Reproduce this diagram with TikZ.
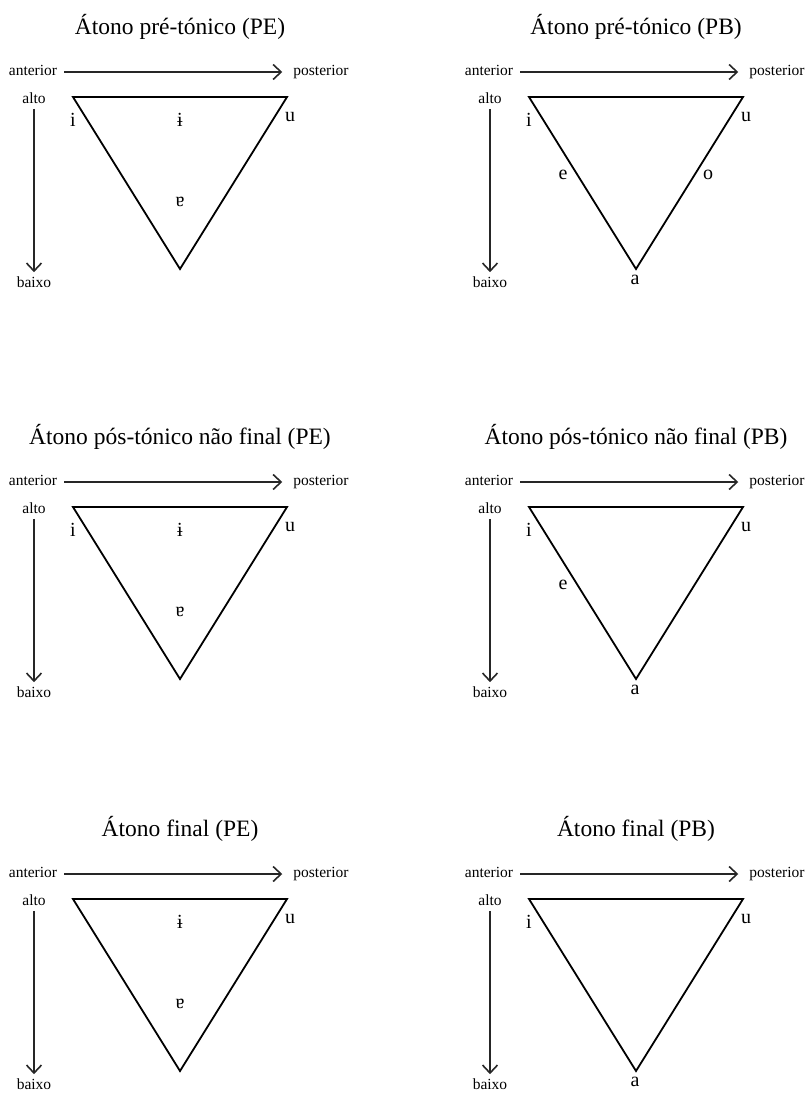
\documentclass[tikz,border=0pt]{standalone}
\usepackage{fontspec}
\setmainfont{Liberation Serif}
\usetikzlibrary{arrows.meta, positioning}

\tikzset{
  titulo/.style={font=\fontsize{23.5}{26}\selectfont, inner sep=1pt},
  rotulo/.style={font=\fontsize{15.5}{17}\selectfont, inner sep=2pt, text height=0.8em, text depth=0.12em},
  vogal/.style={font=\fontsize{20}{22}\selectfont, inner sep=1pt},
  eixo/.style={line width=1.6pt, draw=black!85, -{Straight Barb[length=8pt, width=15pt]}},
  triangulo/.style={line width=1.8pt, line join=miter}
}

% #1 deslocamento, #2 prefixo, #3 titulo, #4 vogais
\newcommand{\painel}[4]{%
  \begin{scope}[shift={#1}, name prefix=#2-]
    \node[titulo] (tit) at (180,27) {#3};
    \node[rotulo] (ant) at (33,72) {anterior};
    \node[rotulo] (post) at (321,72) {posterior};
    \node[rotulo] (alto) at (34,100) {alto};
    \node[rotulo] (baixo) at (34,284) {baixo};
    \coordinate (ae) at (73,97);
    \coordinate (ad) at (287,97);
    \coordinate (bx) at (180,269);
    \draw[eixo, shorten <=5pt, shorten >=9pt] (ant) -- (post);
    \draw[eixo, shorten <=2pt, shorten >=5pt] (alto) -- (baixo);
    \draw[triangulo] (ae) -- (ad) -- (bx) -- cycle;
    #4
  \end{scope}}

\begin{document}
\begin{tikzpicture}[x=1pt, y=-1pt]
  \useasboundingbox (0,0) rectangle (806,1094);

  % linha 1: pre-tonico
  \painel{(0,0)}{pe1}{Átono pré-tónico (PE)}{
    \node[vogal] (i) at (73,120) {i};
    \node[vogal] (ib) at (180,120) {ɨ};
    \node[vogal] (u) at (290,117) {u};
    \node[vogal] (ab) at (180,202) {ɐ};
  }
  \painel{(456,0)}{pb1}{Átono pré-tónico (PB)}{
    \node[vogal] (i) at (73,120) {i};
    \node[vogal] (u) at (290,117) {u};
    \node[vogal] (e) at (107,175) {e};
    \node[vogal] (o) at (252,175) {o};
    \node[vogal] (a) at (179,280) {a};
  }

  % linha 2: pos-tonico nao final
  \painel{(0,410)}{pe2}{Átono pós-tónico não final (PE)}{
    \node[vogal] (i) at (73,120) {i};
    \node[vogal] (ib) at (180,120) {ɨ};
    \node[vogal] (u) at (290,117) {u};
    \node[vogal] (ab) at (180,202) {ɐ};
  }
  \painel{(456,410)}{pb2}{Átono pós-tónico não final (PB)}{
    \node[vogal] (i) at (73,120) {i};
    \node[vogal] (u) at (290,117) {u};
    \node[vogal] (e) at (107,175) {e};
    \node[vogal] (a) at (179,280) {a};
  }

  % linha 3: final
  \painel{(0,802)}{pe3}{Átono final (PE)}{
    \node[vogal] (ib) at (180,120) {ɨ};
    \node[vogal] (u) at (290,117) {u};
    \node[vogal] (ab) at (180,202) {ɐ};
  }
  \painel{(456,802)}{pb3}{Átono final (PB)}{
    \node[vogal] (i) at (73,120) {i};
    \node[vogal] (u) at (290,117) {u};
    \node[vogal] (a) at (179,280) {a};
  }
\end{tikzpicture}
\end{document}
